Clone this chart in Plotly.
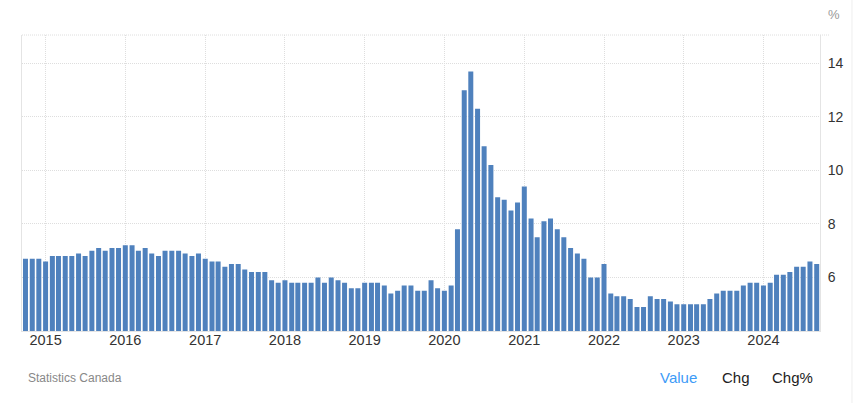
import pandas as pd
import plotly.graph_objects as go

# Canada unemployment rate (%), monthly, Oct 2014 - Sep 2024
v2014 = [6.7, 6.7, 6.7]
v2015 = [6.6, 6.8, 6.8, 6.8, 6.8, 6.9, 6.8, 7.0, 7.1, 7.0, 7.1, 7.1]
v2016 = [7.2, 7.2, 7.0, 7.1, 6.9, 6.8, 7.0, 7.0, 7.0, 6.9, 6.8, 6.9]
v2017 = [6.7, 6.6, 6.6, 6.4, 6.5, 6.5, 6.3, 6.2, 6.2, 6.2, 5.9, 5.8]
v2018 = [5.9, 5.8, 5.8, 5.8, 5.8, 6.0, 5.8, 6.0, 5.9, 5.8, 5.6, 5.6]
v2019 = [5.8, 5.8, 5.8, 5.7, 5.4, 5.5, 5.7, 5.7, 5.5, 5.5, 5.9, 5.6]
v2020 = [5.5, 5.7, 7.8, 13.0, 13.7, 12.3, 10.9, 10.2, 9.0, 8.9, 8.5, 8.8]
v2021 = [9.4, 8.2, 7.5, 8.1, 8.2, 7.8, 7.5, 7.1, 6.9, 6.7, 6.0, 6.0]
v2022 = [6.5, 5.4, 5.3, 5.3, 5.2, 4.9, 4.9, 5.3, 5.2, 5.2, 5.1, 5.0]
v2023 = [5.0, 5.0, 5.0, 5.0, 5.2, 5.4, 5.5, 5.5, 5.5, 5.7, 5.8, 5.8]
v2024 = [5.7, 5.8, 6.1, 6.1, 6.2, 6.4, 6.4, 6.6, 6.5]

values = v2014 + v2015 + v2016 + v2017 + v2018 + v2019 + v2020 + v2021 + v2022 + v2023 + v2024
months = pd.date_range("2014-10-01", periods=len(values), freq="MS")

year_ticks = [f"{y}-01-01" for y in range(2015, 2025)]
year_labels = [str(y) for y in range(2015, 2025)]
y_ticks = [6, 8, 10, 12, 14]

FONT = "Liberation Sans, Arial, sans-serif"
GRID = "#dedede"
LINE = "#e4e4e4"
DOTS = "1px,1px"

fig = go.Figure()
fig.add_trace(go.Bar(
    x=months, y=values,
    marker=dict(color="#4f81bd", line=dict(width=0)),
    width=22.9 * 86400000,
    hoverinfo="x+y",
))

fig.update_layout(
    width=855, height=403,
    margin=dict(l=22, r=35, t=35, b=72),
    paper_bgcolor="white", plot_bgcolor="white",
    showlegend=False,
    font=dict(family=FONT, color="#333"),
    xaxis=dict(
        type="date",
        range=["2014-09-15", "2024-09-16"],
        tickvals=year_ticks, ticktext=year_labels,
        tickfont=dict(size=14.5, color="#333"),
        showgrid=True, gridcolor=GRID, griddash=DOTS, gridwidth=1,
        showline=True, linecolor=LINE, linewidth=1,
        ticks="", zeroline=False,
        ticklabelstandoff=-4,
    ),
    yaxis=dict(
        side="right",
        range=[4, 15.06],
        tickvals=y_ticks,
        tickfont=dict(size=14, color="#333"),
        showgrid=True, gridcolor=GRID, griddash=DOTS, gridwidth=1,
        showline=True, linecolor=LINE, linewidth=1, mirror=True,
        ticks="outside", ticklen=4, tickcolor="rgba(0,0,0,0)",
        zeroline=False,
    ),
    shapes=[
        dict(type="line", xref="paper", yref="paper", x0=0, x1=1.0125, y0=1, y1=1,
             line=dict(color=GRID, width=1, dash=DOTS)),
        dict(type="line", xref="paper", yref="paper", x0=1.0401, x1=1.0401, y0=-0.25, y1=1.2,
             line=dict(color="#eeeeee", width=1)),
    ],
    annotations=[
        dict(text="%", xref="paper", yref="paper", x=1.0175, y=1.068,
             xanchor="center", yanchor="middle", showarrow=False,
             font=dict(size=13, color="#999")),
        dict(text="Statistics Canada", xref="paper", yref="paper", x=0.005, y=-0.159,
             xanchor="left", yanchor="middle", showarrow=False,
             font=dict(size=12, color="#888")),
        dict(text="Value", xref="paper", yref="paper", x=0.797, y=-0.157,
             xanchor="left", yanchor="middle", showarrow=False,
             font=dict(size=15, color="#3d9bf7")),
        dict(text="Chg", xref="paper", yref="paper", x=0.8745, y=-0.157,
             xanchor="left", yanchor="middle", showarrow=False,
             font=dict(size=15, color="#222")),
        dict(text="Chg%", xref="paper", yref="paper", x=0.9375, y=-0.157,
             xanchor="left", yanchor="middle", showarrow=False,
             font=dict(size=15, color="#222")),
    ],
)

fig.write_html("out.html", config={"displayModeBar": False},
               post_script="document.body.style.margin='0px';")
